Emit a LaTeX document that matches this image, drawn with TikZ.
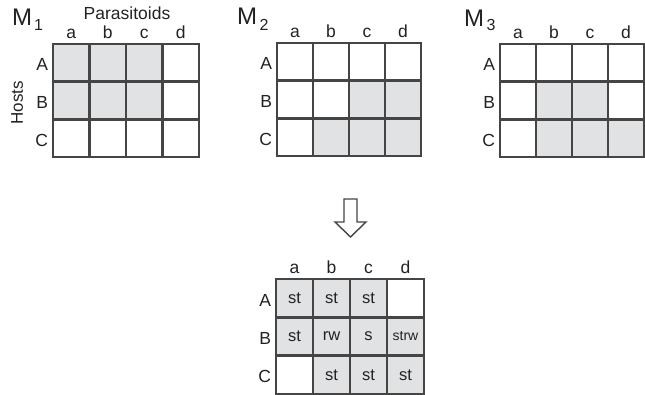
\documentclass[tikz,border=0pt]{standalone}
\usepackage{fontspec}
\setmainfont{Liberation Sans}
\definecolor{gridline}{HTML}{454545}
\definecolor{cellfill}{HTML}{E1E2E4}
\definecolor{txt}{HTML}{222222}
\tikzset{
  cell/.style={draw=gridline, line width=2.6pt, minimum width=36.5pt, minimum height=37.7pt, inner sep=0pt, fill=white, text=txt, font=\fontsize{16.5}{16.5}\selectfont},
  bcell/.style={cell, minimum width=37pt, minimum height=38.3pt},
  on/.style={fill=cellfill},
  off/.style={fill=white},
  lab/.style={text=txt, inner sep=0pt, font=\fontsize{17.5}{17.5}\selectfont},
  mlab/.style={text=txt, inner sep=0pt, font=\fontsize{24}{24}\selectfont},
  sublab/.style={text=txt, inner sep=0pt, font=\fontsize{16}{16}\selectfont},
  arrowshape/.style={draw=gridline, line width=1.4pt, fill=white, line join=miter}
}
\begin{document}
\begin{tikzpicture}[x=1pt,y=-1pt]
\useasboundingbox (0,0) rectangle (645,395);
% ---------- M1 ----------
\foreach \c/\r/\s [count=\k from 0] in {a/A/on,b/A/on,c/A/on,d/A/off,a/B/on,b/B/on,c/B/on,d/B/off,a/C/off,b/C/off,c/C/off,d/C/off}{
  \pgfmathtruncatemacro{\col}{mod(\k,4)}
  \pgfmathtruncatemacro{\row}{int(\k/4)}
  \node[cell,\s] (m1-\r\c) at ({53+(\col+0.5)*36.5},{44+(\row+0.5)*37.7}) {};
}
% ---------- M2 ----------
\foreach \c/\r/\s [count=\k from 0] in {a/A/off,b/A/off,c/A/off,d/A/off,a/B/off,b/B/off,c/B/on,d/B/on,a/C/off,b/C/on,c/C/on,d/C/on}{
  \pgfmathtruncatemacro{\col}{mod(\k,4)}
  \pgfmathtruncatemacro{\row}{int(\k/4)}
  \node[cell,\s,minimum width=36pt] (m2-\r\c) at ({277+(\col+0.5)*36},{43+(\row+0.5)*37.7}) {};
}
% ---------- M3 ----------
\foreach \c/\r/\s [count=\k from 0] in {a/A/off,b/A/off,c/A/off,d/A/off,a/B/off,b/B/on,c/B/on,d/B/off,a/C/off,b/C/on,c/C/on,d/C/on}{
  \pgfmathtruncatemacro{\col}{mod(\k,4)}
  \pgfmathtruncatemacro{\row}{int(\k/4)}
  \node[cell,\s,minimum width=36pt] (m3-\r\c) at ({500+(\col+0.5)*36},{44+(\row+0.5)*37.7}) {};
}
% ---------- result ----------
\foreach \c/\r/\s/\t [count=\k from 0] in {a/A/on/st,b/A/on/st,c/A/on/st,d/A/off/{},a/B/on/st,b/B/on/rw,c/B/on/s,d/B/on/{\fontsize{14}{14}\selectfont strw},a/C/off/{},b/C/on/st,c/C/on/st,d/C/on/st}{
  \pgfmathtruncatemacro{\col}{mod(\k,4)}
  \pgfmathtruncatemacro{\row}{int(\k/4)}
  \node[bcell,\s] (m4-\r\c) at ({276+(\col+0.5)*37},{279+(\row+0.5)*38.3}) {\t};
}
% ---------- column and row letters ----------
\foreach \m in {m1,m2,m3,m4}{
  \foreach \c in {a,b,c,d}{
    \node[lab,anchor=base] (\m-col\c) at ([yshift=4pt]\m-A\c.north) {\c};
  }
  \foreach \r in {A,B,C}{
    \node[lab,anchor=east] (\m-row\r) at ([xshift=-3.5pt,yshift=-2pt]\m-\r a.west) {\r};
  }
}
% ---------- titles ----------
\node[mlab,anchor=base west] (t1) at (12,26) {M};
\node[sublab,anchor=base west] (t1s) at ([xshift=1.5pt,yshift=-5pt]t1.base east) {1};
\node[mlab,anchor=base west] (t2) at (237,25) {M};
\node[sublab,anchor=base west] (t2s) at ([xshift=2pt,yshift=-6pt]t2.base east) {2};
\node[mlab,anchor=base west] (t3) at (464,27) {M};
\node[sublab,anchor=base west] (t3s) at ([xshift=2pt,yshift=-4pt]t3.base east) {3};
\node[lab,font=\fontsize{17.5}{17.5}\selectfont] (para) at (127,13) {Parasitoids};
\node[lab,rotate=90,font=\fontsize{17}{17}\selectfont] (hosts) at (17,103) {Hosts};
% ---------- arrow ----------
\draw[arrowshape] (344,199) -- (357,199) -- (357,222) -- (366,222) -- (350.5,237) -- (335,222) -- (344,222) -- cycle;
\end{tikzpicture}
\end{document}
